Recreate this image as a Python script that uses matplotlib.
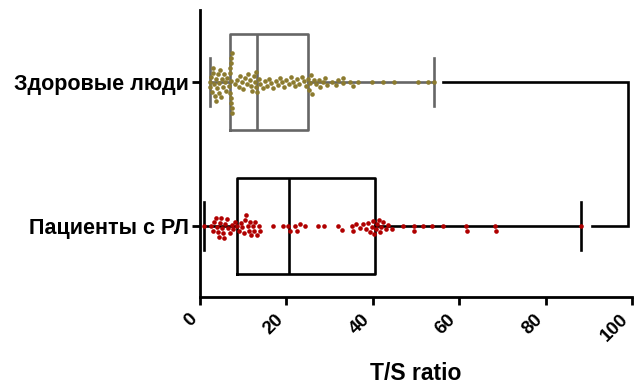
import numpy as np
import matplotlib
matplotlib.use("Agg")
import matplotlib.pyplot as plt

plt.rcParams['font.family'] = ['Liberation Sans', 'DejaVu Sans']
plt.rcParams['font.weight'] = 'bold'

groups = ["Пациенты с РЛ", "Здоровые люди"]

healthy = [
    2.2, 2.4, 2.6, 2.8, 3.0, 3.1, 3.3, 3.4, 3.6, 3.8, 3.9, 4.1, 4.3, 4.5, 4.6,
    4.8, 5.0, 5.3, 5.5, 5.8, 6.0, 6.3, 6.6, 6.9,
    7.0, 7.0, 7.1, 7.1, 7.1, 7.2, 7.2, 7.3, 7.3, 7.4,
    8.0, 8.5, 9.0, 9.3, 9.7, 10.0, 10.4, 10.8, 11.1, 11.5, 11.8, 12.1, 12.4,
    12.7, 12.9, 13.0,
    13.2, 13.6, 14.0, 14.5, 15.0, 15.5, 16.0, 16.5, 17.0, 17.5, 18.0, 18.5,
    19.0, 19.5, 20.0, 20.5, 21.0, 21.5, 22.0, 22.5, 23.0, 23.5, 24.0, 24.5, 25.0,
    25.3, 25.5, 25.8, 26.0, 26.3, 26.9, 27.5, 27.8, 28.5, 28.9, 29.5, 30.5,
    31.5, 32.0, 33.0, 33.2, 34.7, 35.5, 36.6, 39.7, 42.4, 44.9, 50.5, 52.7, 54.2,
]

patients = [
    0.93, 2.5, 3.0, 3.3, 3.6, 3.9, 4.1, 4.4, 4.7, 4.9, 5.1, 5.4, 5.6, 5.9, 6.2,
    6.5, 6.9, 7.3, 7.7, 8.2,
    8.6, 9.0, 9.4, 9.8, 10.1, 10.4, 10.7, 11.0, 11.3, 11.6, 11.9, 12.2, 12.5,
    12.8, 13.2, 13.6, 14.0, 16.9, 19.2, 20.4,
    20.8, 22.0, 22.5, 23.1, 24.3, 27.4, 28.7, 32.0, 32.8, 35.1, 35.5, 36.2,
    37.0, 37.8, 38.4, 38.9, 39.3, 39.7, 40.0, 40.3,
    40.7, 41.0, 41.4, 41.7, 42.0, 42.4, 43.0, 43.6, 44.4, 47.0, 49.5, 49.6,
    51.6, 53.6, 56.2, 61.5, 61.7, 68.4, 68.6, 88.3,
]

x_ticks = [0, 20, 40, 60, 80, 100]
x_label = "T/S ratio"

W, H, DPI = 638, 385, 100
fig = plt.figure(figsize=(W / DPI, H / DPI), dpi=DPI)
ax = fig.add_axes([200 / W, 1 - 297 / H, 432 / W, 287 / H])
ax.set_xlim(0, 100)
ax.set_ylim(-0.493, 1.5)

box_w = 0.667
lw = 1.9
styles = [("black", "#B00000"), ("#666666", "#8C7B2F")]
data = [patients, healthy]

for pos, vals, (bc, dc) in zip([0, 1], data, styles):
    ax.boxplot([vals], positions=[pos], widths=box_w, vert=False, whis=(0, 100),
               showfliers=False, manage_ticks=False,
               boxprops=dict(color=bc, linewidth=lw),
               medianprops=dict(color=bc, linewidth=lw),
               whiskerprops=dict(color=bc, linewidth=lw),
               capprops=dict(color=bc, linewidth=lw))

# beeswarm layout computed in pixel space
fig.canvas.draw()
d = 5.0  # marker spacing in px
for pos, vals, (bc, dc) in zip([0, 1], data, styles):
    v = np.sort(np.asarray(vals, dtype=float))
    px = ax.transData.transform(np.column_stack([v, np.full_like(v, pos)]))
    xs = px[:, 0]
    y0 = px[0, 1]
    placed = []
    offs = []
    for x in xs:
        cands = [0.0]
        for (xj, yj) in placed:
            dx = x - xj
            if abs(dx) < d:
                h = np.sqrt(d * d - dx * dx)
                cands += [yj + h, yj - h]
        cands = sorted(set(cands), key=lambda c: (abs(c), c))
        for c in cands:
            ok = all((x - xj) ** 2 + (c - yj) ** 2 >= d * d - 1e-6 for xj, yj in placed)
            if ok:
                placed.append((x, c))
                offs.append(c)
                break
    pts = ax.transData.inverted().transform(
        np.column_stack([xs, y0 + np.array(offs)]))
    ax.scatter(pts[:, 0], pts[:, 1], s=11, color=dc, linewidths=0, zorder=5,
               clip_on=False)

# significance bracket between the groups
ax.plot([56.2, 99.1, 99.1, 90.7], [1, 1, 0, 0], color="black", lw=lw,
        solid_joinstyle="miter", clip_on=False, zorder=4)

for s in ["top", "right"]:
    ax.spines[s].set_visible(False)
for s in ["left", "bottom"]:
    ax.spines[s].set_linewidth(2.0)
    ax.spines[s].set_color("black")

ax.set_yticks([0, 1])
ax.set_yticklabels(groups, fontsize=15.5, fontweight="bold")
ax.set_xticks(x_ticks)
ax.set_xticklabels([str(t) for t in x_ticks], rotation=45, ha="right",
                   fontsize=13.5, fontweight="bold")
ax.tick_params(axis="both", width=2.0, length=6, color="black", pad=2)
ax.tick_params(axis="x", pad=4)
ax.set_xlabel(x_label, fontsize=16.5, fontweight="bold", labelpad=12)

fig.savefig("out.png", dpi=DPI)
